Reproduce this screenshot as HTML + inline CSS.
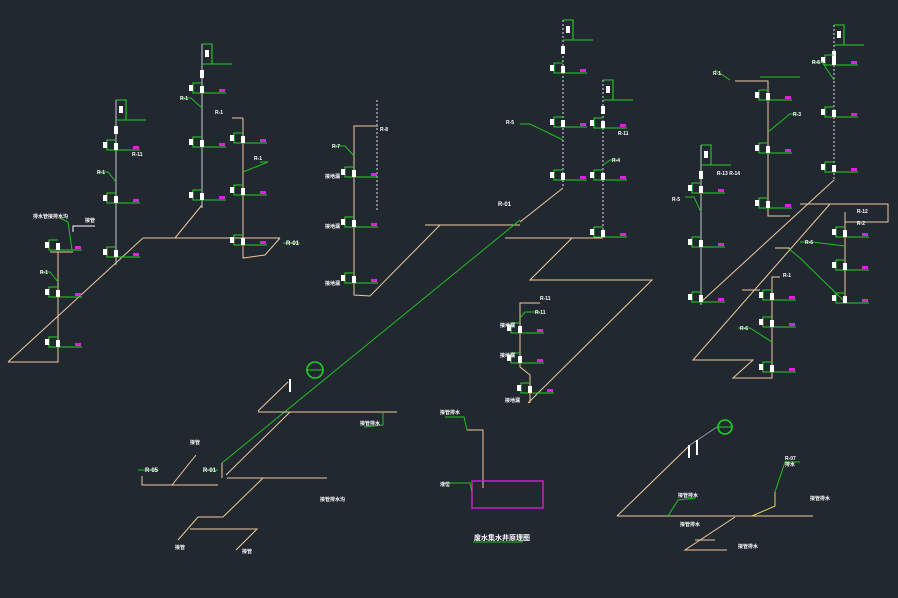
<!DOCTYPE html>
<html><head><meta charset="utf-8"><style>
html,body{margin:0;padding:0;background:#212830;}
svg{display:block}
text{font-family:"Liberation Sans","Noto Sans CJK SC",sans-serif;font-weight:bold;}
</style></head><body>
<svg width="898" height="598" viewBox="0 0 898 598" xmlns="http://www.w3.org/2000/svg">
<defs>
<g id="fx">
<path d="M0,0 H-9 V10 H0" fill="none" stroke="#22d022" stroke-width="1.1"/>
<rect x="-13" y="2" width="4" height="6" fill="#fff"/>
<line x1="0" y1="10" x2="24" y2="10" stroke="#22d022" stroke-width="1.1"/>
<rect x="-2" y="3" width="4" height="7" fill="#fff"/>
<rect x="17" y="6" width="6" height="3" fill="#e020e0"/>
</g>
<g id="tp">
<path d="M0,0 H10 V20" fill="none" stroke="#22d022" stroke-width="1.1"/>
<line x1="0" y1="20" x2="30" y2="20" stroke="#22d022" stroke-width="1.1"/>
<rect x="3" y="6" width="4" height="7" fill="#fff"/>
<rect x="-2" y="26" width="4" height="8" fill="#fff"/>
</g>
</defs>
<rect width="898" height="598" fill="#212830"/>

<g fill="none" stroke-width="1">
<g stroke="#f0c89a">
<polyline points="8,362 58,362 58,252"/>
<line x1="50" y1="252" x2="73" y2="252"/>
<line x1="8" y1="362" x2="143" y2="238"/>
<line x1="143" y1="238" x2="280" y2="238"/>
<polyline points="243,118 243,258 265,255 280,238"/>
<line x1="202" y1="205" x2="175" y2="238"/>
<line x1="232" y1="118" x2="243" y2="118"/>
</g>
<line x1="116" y1="100" x2="116" y2="265" stroke="#c8c8d0"/>
<line x1="202" y1="44" x2="202" y2="208" stroke="#c8c8d0"/>
<polyline points="73,232 73,226 95,226" stroke="#fff"/>

<g stroke="#f0c89a">
<polyline points="378,126 354,126 354,295 370,296 440,225 520,225"/>
<line x1="425" y1="225" x2="440" y2="225"/>
<line x1="563" y1="188" x2="520" y2="222"/>
<line x1="505" y1="238" x2="603" y2="238"/>
<polyline points="572,238 530,280 652,280 528,403"/>
<polyline points="540,303 520,303 520,367 530,375 530,403"/>
</g>
<line x1="377" y1="100" x2="377" y2="212" stroke="#9a9aa6" stroke-dasharray="2,2" stroke-width="1.6"/>
<line x1="563" y1="20" x2="563" y2="188" stroke="#9a9aa6" stroke-dasharray="2,2" stroke-width="1.6"/>
<line x1="603" y1="80" x2="603" y2="240" stroke="#9a9aa6" stroke-dasharray="2,2" stroke-width="1.6"/>
<line x1="222" y1="463" x2="520" y2="220" stroke="#22c022"/>

<g stroke="#f0c89a">
<polyline points="735,81 768,81 768,216 790,216"/>
<line x1="834" y1="180" x2="701" y2="302"/>
<polyline points="800,204 888,204 888,222 845,222"/>
<polyline points="845,212 845,300"/>
<polyline points="830,204 693,360 753,360 733,378 772,378 772,277 780,277"/>
<line x1="742" y1="290" x2="760" y2="290"/>
</g>
<line x1="701" y1="145" x2="701" y2="305" stroke="#c8c8d0"/>
<line x1="834" y1="25" x2="834" y2="180" stroke="#9a9aa6" stroke-dasharray="2,2" stroke-width="1.6"/>
<polyline points="788,248 800,258 843,300" stroke="#22c022"/>
<line x1="775" y1="248" x2="790" y2="248" stroke="#e8e090"/>

<g stroke="#f0c89a">
<line x1="258" y1="411" x2="288" y2="382"/>
<line x1="258" y1="412" x2="397" y2="412"/>
<line x1="290" y1="412" x2="226" y2="475"/>
<polyline points="142,476 142,485 218,485"/>
<line x1="222" y1="463" x2="222" y2="478"/>
<line x1="227" y1="478" x2="327" y2="478"/>
<line x1="172" y1="485" x2="196" y2="455"/>
<polyline points="263,478 223,517 198,517 178,540"/>
<polyline points="190,529 257,529 236,550"/>
</g>
<polyline points="383,413 383,425 364,427" stroke="#22c022"/>
<circle cx="315" cy="370" r="8" stroke="#22d022" stroke-width="1.6"/>
<line x1="307" y1="370" x2="323" y2="370" stroke="#22d022"/>
<line x1="290" y1="379" x2="290" y2="392" stroke="#fff" stroke-width="2"/>

<polyline points="467,430 483,430 483,488" stroke="#f0c89a"/>
<rect x="472" y="481" width="71" height="27" stroke="#d020d0" stroke-width="1.4"/>
<polyline points="445,417 464,417 467,430" stroke="#22c022"/>
<polyline points="445,483 470,483 472,492" stroke="#22c022"/>

<line x1="617" y1="516" x2="690" y2="445" stroke="#f0c89a"/>
<line x1="690" y1="445" x2="717" y2="427" stroke="#9a9aa6"/>
<circle cx="725" cy="427" r="7" stroke="#22d022" stroke-width="1.6"/>
<line x1="718" y1="427" x2="732" y2="427" stroke="#22d022"/>
<line x1="617" y1="516" x2="813" y2="516" stroke="#f0c89a"/>
<polyline points="735,517 685,550 727,550" stroke="#f0c89a"/>
<line x1="695" y1="540" x2="715" y2="540" stroke="#f0c89a"/>
<polyline points="752,516 775,506 775,492" stroke="#e8d050"/>
<polyline points="775,492 785,462 800,462" stroke="#22c022"/>
<polyline points="668,516 678,500 695,498" stroke="#22c022"/>
<line x1="689" y1="445" x2="689" y2="458" stroke="#fff" stroke-width="2"/>
<line x1="697" y1="440" x2="697" y2="455" stroke="#fff" stroke-width="2"/>
</g>

<g>
<use href="#fx" x="58" y="240"/><use href="#fx" x="58" y="287"/><use href="#fx" x="58" y="337"/>
<use href="#tp" x="116" y="100"/>
<use href="#fx" x="116" y="140"/><use href="#fx" x="116" y="193"/><use href="#fx" x="116" y="247"/>
<use href="#tp" x="202" y="44"/>
<use href="#fx" x="202" y="83"/><use href="#fx" x="202" y="137"/><use href="#fx" x="202" y="190"/>
<use href="#fx" x="243" y="133"/><use href="#fx" x="243" y="185"/><use href="#fx" x="243" y="235"/>
<use href="#fx" x="354" y="167"/><use href="#fx" x="354" y="217"/><use href="#fx" x="354" y="273"/>
<use href="#tp" x="563" y="20"/>
<use href="#fx" x="563" y="63"/><use href="#fx" x="563" y="117"/><use href="#fx" x="563" y="170"/>
<use href="#tp" x="603" y="80"/>
<use href="#fx" x="603" y="118"/><use href="#fx" x="603" y="170"/><use href="#fx" x="603" y="227"/>
<use href="#tp" x="701" y="145"/>
<use href="#fx" x="701" y="183"/><use href="#fx" x="701" y="237"/><use href="#fx" x="701" y="292"/>
<use href="#fx" x="768" y="90"/><use href="#fx" x="768" y="143"/><use href="#fx" x="768" y="198"/>
<use href="#tp" x="834" y="25"/>
<use href="#fx" x="834" y="55"/><use href="#fx" x="834" y="107"/><use href="#fx" x="834" y="162"/>
<use href="#fx" x="845" y="227"/><use href="#fx" x="845" y="260"/><use href="#fx" x="845" y="293"/>
<use href="#fx" x="772" y="290"/><use href="#fx" x="772" y="317"/><use href="#fx" x="772" y="362"/>
<use href="#fx" x="520" y="323"/><use href="#fx" x="520" y="353"/><use href="#fx" x="530" y="383"/>
</g>

<g stroke="#22c022" fill="none" stroke-width="1">
<polyline points="40,272 50,272 58,282"/><polyline points="98,172 108,172 116,182"/>
<polyline points="181,98 191,98 202,108"/><polyline points="260,162 268,162 243,172"/>
<polyline points="335,146 345,146 354,156"/><polyline points="520,124 530,124 563,140"/>
<polyline points="618,160 610,160 603,165"/><polyline points="685,197 694,197 701,212"/>
<polyline points="797,114 790,114 768,132"/><polyline points="812,62 822,62 834,80"/>
<polyline points="800,242 812,242 845,246"/><polyline points="738,328 750,328 772,342"/>
<polyline points="60,218 68,222 72,250"/><polyline points="283,243 300,243"/>
<polyline points="138,470 158,470"/><polyline points="203,470 218,470"/>
<polyline points="540,312 525,312 520,318"/><polyline points="715,70 730,80"/>
<polyline points="760,77 800,77"/>
</g>

<g fill="#fff" font-size="5">
<text x="33" y="218">排水管接排水沟</text>
<text x="85" y="222">接管</text>
<text x="40" y="274">R-1</text>
<text x="97" y="174">R-1</text>
<text x="180" y="100">R-1</text>
<text x="132" y="156">R-11</text>
<text x="215" y="114">R-1</text>
<text x="254" y="160">R-1</text>
<text x="286" y="245" font-size="6">R-01</text>
<text x="332" y="148">R-7</text>
<text x="380" y="131">R-8</text>
<text x="325" y="178">接地漏</text><text x="325" y="228">接地漏</text><text x="325" y="285">接地漏</text>
<text x="498" y="206" font-size="6">R-01</text>
<text x="506" y="124">R-5</text>
<text x="618" y="135">R-11</text>
<text x="612" y="162">R-4</text>
<text x="713" y="75">R-1</text>
<text x="793" y="116">R-3</text>
<text x="812" y="64">R-6</text>
<text x="717" y="175">R-13 R-14</text>
<text x="672" y="201">R-5</text>
<text x="857" y="213">R-12</text>
<text x="857" y="225">R-2</text>
<text x="805" y="244">R-6</text>
<text x="740" y="330">R-6</text>
<text x="783" y="277">R-1</text>
<text x="540" y="300">R-11</text>
<text x="535" y="314">R-11</text>
<text x="500" y="327">接地漏</text><text x="500" y="357">接地漏</text><text x="505" y="402">接地漏</text>
<text x="145" y="472" font-size="6">R-05</text>
<text x="203" y="472" font-size="6">R-01</text>
<text x="190" y="444">接管</text>
<text x="320" y="501">接管排水沟</text>
<text x="360" y="425">接管排水</text>
<text x="175" y="549">接管</text><text x="242" y="553">接管</text>
<text x="440" y="414">接管排水</text>
<text x="440" y="486">液位</text>
<text x="785" y="460">R-07</text>
<text x="785" y="466">排水</text>
<text x="678" y="497">接管排水</text>
<text x="810" y="500">接管排水</text>
<text x="680" y="526">接管排水</text>
<text x="738" y="548">接管排水</text>
</g>
<text x="474" y="540" font-size="7" fill="#fff">废水集水井原理图</text>
<line x1="473" y1="542" x2="523" y2="542" stroke="#22c022" stroke-width="1"/>
</svg>
</body></html>
